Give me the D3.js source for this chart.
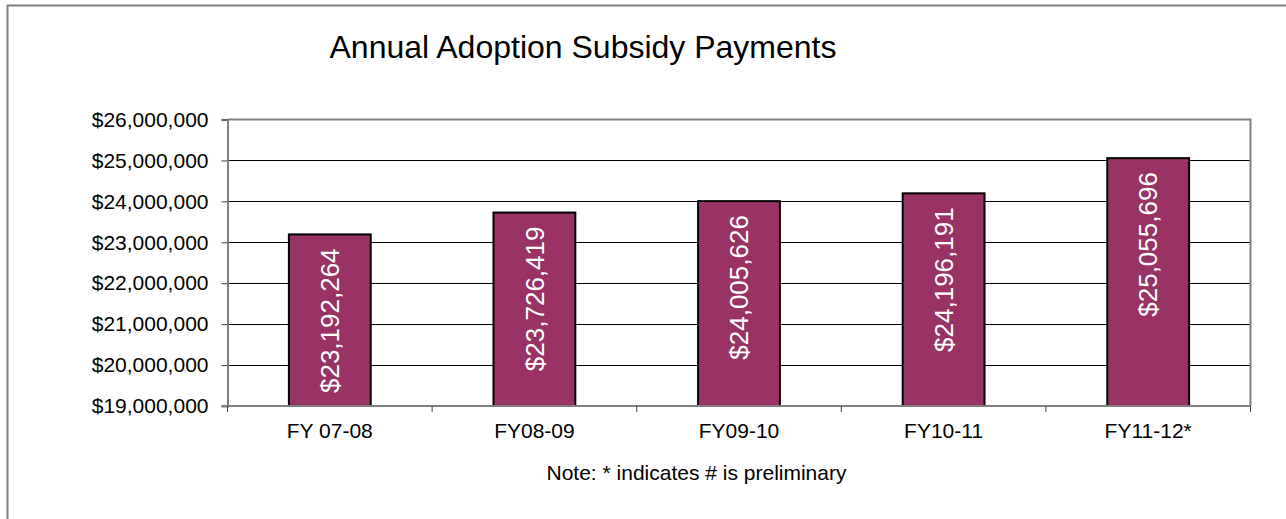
<!DOCTYPE html>
<html>
<head>
<meta charset="utf-8">
<script src="https://cdn.jsdelivr.net/npm/d3@7"></script>
<style>
  html, body { margin: 0; padding: 0; background: #fff; }
  svg { display: block; font-family: "Liberation Sans", Arial, sans-serif; }
</style>
</head>
<body>
<svg id="chart" width="1286" height="519"></svg>
<script>
const title = "Annual Adoption Subsidy Payments";
const note = "Note: * indicates # is preliminary";
const categories = ["FY 07-08", "FY08-09", "FY09-10", "FY10-11", "FY11-12*"];
const payments = [23192264, 23726419, 24005626, 24196191, 25055696];
const yTicks = [19000000, 20000000, 21000000, 22000000, 23000000, 24000000, 25000000, 26000000];

const svg = d3.select("#chart");
const W = 1286, H = 519;
const plot = { left: 227.5, right: 1250.5, top: 119.5, bottom: 406 };

svg.append("rect").attr("width", W).attr("height", H).attr("fill", "#fff");
// outer chart frame
svg.append("rect")
  .attr("x", 7.5).attr("y", 5.5).attr("width", W + 20).attr("height", H + 20)
  .attr("fill", "none").attr("stroke", "#808080").attr("stroke-width", 2);

const x = d3.scaleBand().domain(categories)
  .range([plot.left, plot.right]).paddingInner(0.6).paddingOuter(0.3);
const y = d3.scaleLinear().domain([yTicks[0], yTicks[yTicks.length - 1]])
  .range([plot.bottom, plot.top]);

// gridlines
svg.append("g").selectAll("line")
  .data(yTicks.slice(1, -1)).join("line")
  .attr("x1", plot.left).attr("x2", plot.right)
  .attr("y1", d => Math.round(y(d)) + 0.5).attr("y2", d => Math.round(y(d)) + 0.5)
  .attr("stroke", "#000").attr("stroke-width", 1);

// plot border top & right
svg.append("path")
  .attr("d", `M${plot.left},${plot.top}H${plot.right}V${plot.bottom}`)
  .attr("fill", "none").attr("stroke", "#808080").attr("stroke-width", 2);

// bars
svg.append("g").selectAll("rect")
  .data(payments).join("rect")
  .attr("x", (d, i) => x(categories[i]))
  .attr("width", x.bandwidth())
  .attr("y", d => y(d))
  .attr("height", d => y(yTicks[0]) - y(d))
  .attr("fill", "#993366")
  .attr("stroke", "#000").attr("stroke-width", 2);

// bar labels
const fmt = d3.format("$,");
svg.append("g").selectAll("text")
  .data(payments).join("text")
  .attr("transform", (d, i) => `translate(${x(categories[i]) + x.bandwidth() / 2},${y(d) + 14}) rotate(-90)`)
  .attr("text-anchor", "end")
  .attr("dy", "0.35em")
  .attr("fill", "#fff")
  .attr("font-size", 26)
  .text(d => fmt(d));

// y axis
const yAxis = svg.append("g")
  .attr("transform", `translate(${plot.left},0)`)
  .call(d3.axisLeft(y).tickValues(yTicks).tickFormat(fmt).tickSize(6).tickPadding(13));
yAxis.select(".domain").attr("stroke", "#808080").attr("stroke-width", 2);
yAxis.selectAll(".tick line").attr("stroke", "#404040").attr("stroke-width", 1);
yAxis.selectAll("text").attr("font-size", 21).attr("fill", "#000")
  .attr("font-family", "'Liberation Sans', Arial, sans-serif");

// x axis
const step = x.step();
const bounds = categories.map(c => x(c) - step * x.paddingOuter()).concat([plot.right]);
const xg = svg.append("g");
xg.append("line")
  .attr("x1", plot.left - 6).attr("x2", plot.right)
  .attr("y1", plot.bottom).attr("y2", plot.bottom)
  .attr("stroke", "#808080").attr("stroke-width", 2);
xg.selectAll("line.tk").data(bounds).join("line").attr("class", "tk")
  .attr("x1", d => d).attr("x2", d => d)
  .attr("y1", plot.bottom).attr("y2", plot.bottom + 6)
  .attr("stroke", "#404040").attr("stroke-width", 1);
xg.selectAll("text").data(categories).join("text")
  .attr("x", d => x(d) + x.bandwidth() / 2)
  .attr("y", 438)
  .attr("text-anchor", "middle")
  .attr("font-size", 21)
  .text(d => d);

// title
svg.append("text")
  .attr("x", 583).attr("y", 58)
  .attr("text-anchor", "middle")
  .attr("font-size", 32)
  .text(title);

// note
svg.append("text")
  .attr("x", 696.5).attr("y", 480)
  .attr("text-anchor", "middle")
  .attr("font-size", 21)
  .text(note);
</script>
</body>
</html>
